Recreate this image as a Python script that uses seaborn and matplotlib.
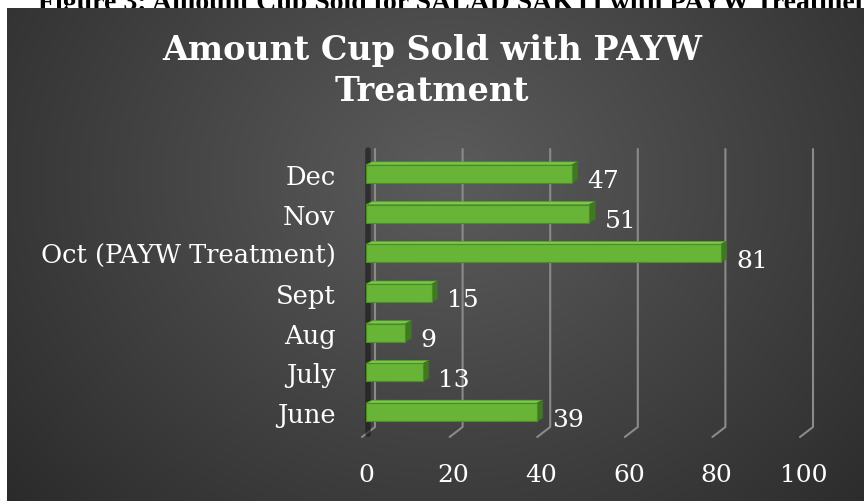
import numpy as np
import pandas as pd
import matplotlib
matplotlib.use("Agg")
import matplotlib.pyplot as plt
import seaborn as sns
from matplotlib.patches import Polygon
from matplotlib.lines import Line2D
from matplotlib.transforms import IdentityTransform

# ---- data ----
months = ["Dec", "Nov", "Oct (PAYW Treatment)", "Sept", "Aug", "July", "June"]
cups = [47, 51, 81, 15, 9, 13, 39]
xticks = [0, 20, 40, 60, 80, 100]
title = "Amount Cup Sold with PAYW\nTreatment"
caption = "Figure 3: Amount Cup Sold for SALAD SAKTI with PAYW Treatment"

sns.set_theme(style="white")
plt.rcParams["font.family"] = ["DejaVu Serif"]

W, H = 864, 502
fig = plt.figure(figsize=(W / 100, H / 100), dpi=100, facecolor="white")

# caption (clipped by the panel, as in the source page)
fig.text(38 / W, 1 - 10 / H, caption, fontsize=20, fontweight="bold",
         family=["Liberation Serif"], color="black", va="baseline", ha="left", zorder=-5)

# background panel with radial gradient
px0, py0 = 7, 9
bg = fig.add_axes([px0 / W, 0, 1 - px0 / W, (H - py0) / H], zorder=0)
ph, pw = H - py0, W - px0
yy, xx = np.mgrid[0:ph, 0:pw]
cx, cy = 440, 170
r = np.hypot((xx - cx) / 640.0, (yy - cy) / 540.0)
val = 0.36 - 0.21 * np.clip(r, 0, 1)
img = np.dstack([val, val, val])
bg.imshow(img, aspect="auto", interpolation="bilinear")
bg.set_axis_off()

# main axes
ax = fig.add_axes([366 / W, 1 - 433 / H, 438 / W, 278 / H], zorder=1)
ax.patch.set_alpha(0)
df = pd.DataFrame({"month": months, "cups": cups})
green = "#67B437"
sns.barplot(data=df, x="cups", y="month", orient="h", color=green, saturation=1,
            width=0.45, edgecolor="#4C8C26", linewidth=0.8, ax=ax, zorder=3)
ax.set_xlim(0, 100)
ax.set_ylim(len(months) - 0.5, -0.5)
ax.set_xticks(xticks)
ax.set_xticklabels([str(t) for t in xticks])
ax.set_xlabel("")
ax.set_ylabel("")
for s in ax.spines.values():
    s.set_visible(False)
ax.grid(False)
ax.tick_params(axis="x", length=0, pad=22, labelsize=18, labelcolor="white")
ax.tick_params(axis="y", length=0, pad=22, labelsize=18.5, labelcolor="white")

fig.canvas.draw()
T = ax.transData
ident = IdentityTransform()

# gridlines with 3D floor
for v in xticks:
    bx, by = T.transform((v, len(months) - 0.5))
    tx, ty = T.transform((v, -0.5))
    ax.add_line(Line2D([bx + 9, bx + 9, bx - 4], [ty + 5, by + 5, by - 5],
                       transform=ident, color="#8a8a8a", lw=1.5, zorder=0, clip_on=False))

# left wall shadow
wx0, wy0 = T.transform((0, len(months) - 0.5))
wx1, wy1 = T.transform((0, -0.5))
ax.add_line(Line2D([wx0 + 2, wx1 + 2], [wy0 - 2, wy1 + 4], transform=ident,
                   color="#111111", lw=4, alpha=0.55, zorder=1, clip_on=False))

# 3D faces for bars + labels
dx, dy = 6, 3
for p, v in zip(ax.patches, cups):
    x0, y0 = p.get_x(), p.get_y()
    w, h = p.get_width(), p.get_height()
    (ax0, ay0) = T.transform((x0, y0 + h))  # bottom-left (display)
    (ax1, ay1) = T.transform((x0 + w, y0))  # top-right (display)
    top = Polygon([[ax0, ay1], [ax1, ay1], [ax1 + dx, ay1 + dy], [ax0 + dx, ay1 + dy]],
                  closed=True, transform=ident, facecolor="#78C84A", edgecolor="#5A9E30",
                  lw=0.5, zorder=2, clip_on=False)
    side = Polygon([[ax1, ay0], [ax1, ay1], [ax1 + dx, ay1 + dy], [ax1 + dx, ay0 + dy]],
                   closed=True, transform=ident, facecolor="#3F7B1E", edgecolor="#3A701C",
                   lw=0.5, zorder=2, clip_on=False)
    ax.add_patch(top)
    ax.add_patch(side)
    ax.annotate(str(v), xy=(x0 + w, y0 + h / 2), xytext=(11, -5), textcoords="offset points",
                ha="left", va="center", color="white", fontsize=18, zorder=5)

fig.text(432 / W, 1 - 71 / H, title, ha="center", va="center", color="white",
         fontsize=24, fontweight="bold", linespacing=1.3, zorder=5)

fig.savefig("out.png", dpi=100, facecolor="white")
